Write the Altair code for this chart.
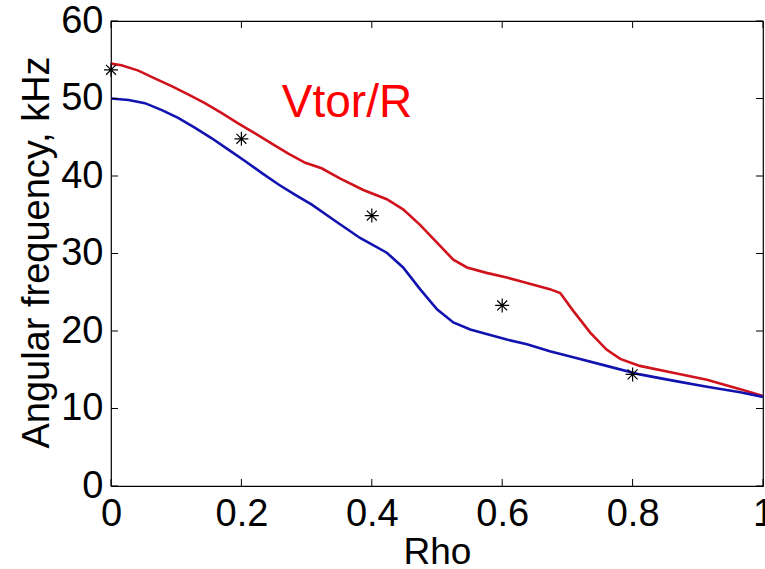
import altair as alt
import pandas as pd

# Red curve (Vtor/R)
rho_red = [0.0, 0.016, 0.042, 0.067, 0.093, 0.119, 0.144, 0.17, 0.195, 0.221, 0.246, 0.272,
           0.298, 0.323, 0.351, 0.387, 0.423, 0.448, 0.474, 0.5, 0.525, 0.546, 0.576, 0.607,
           0.638, 0.673, 0.689, 0.709, 0.735, 0.76, 0.781, 0.811, 0.862, 0.914, 0.965, 1.0]
val_red = [54.5, 54.3, 53.6, 52.6, 51.6, 50.5, 49.4, 48.1, 46.8, 45.5, 44.2, 42.9,
           41.7, 41.0, 39.7, 38.2, 37.0, 35.7, 33.7, 31.4, 29.2, 28.2, 27.5, 26.9,
           26.2, 25.4, 24.9, 22.6, 19.8, 17.6, 16.4, 15.5, 14.6, 13.7, 12.5, 11.6]

# Blue curve
rho_blue = [0.0, 0.027, 0.052, 0.078, 0.103, 0.129, 0.154, 0.18, 0.206, 0.231, 0.257, 0.282,
            0.308, 0.344, 0.382, 0.423, 0.448, 0.474, 0.5, 0.525, 0.551, 0.576, 0.607, 0.638,
            0.673, 0.709, 0.76, 0.811, 0.862, 0.914, 0.965, 1.0]
val_blue = [50.0, 49.8, 49.4, 48.5, 47.5, 46.2, 44.9, 43.4, 41.9, 40.4, 38.9, 37.6,
            36.3, 34.2, 32.0, 30.1, 28.2, 25.4, 22.8, 21.1, 20.2, 19.6, 18.9, 18.3,
            17.4, 16.6, 15.5, 14.4, 13.6, 12.8, 12.1, 11.5]

# Star markers
rho_star = [0.0, 0.2, 0.4, 0.6, 0.8]
val_star = [53.7, 44.8, 34.9, 23.3, 14.4]

# Ticks
x_ticks = [0, 0.2, 0.4, 0.6, 0.8, 1.0]
y_ticks = [0, 10, 20, 30, 40, 50, 60]

# Annotation
note_text = ["Vtor/R"]
note_rho = [0.262]
note_val = [47.6]

FONT = "Liberation Sans"
W, H = 652, 465
TICK = 7

red_df = pd.DataFrame({"rho": rho_red, "v": val_red})
blue_df = pd.DataFrame({"rho": rho_blue, "v": val_blue})
star_df = pd.DataFrame({"rho": rho_star, "v": val_star})
xt_df = pd.DataFrame({"t": x_ticks})
yt_df = pd.DataFrame({"t": y_ticks})
note_df = pd.DataFrame({"rho": note_rho, "v": note_val, "label": note_text})

xscale = alt.Scale(domain=[0, 1], nice=False, zero=False)
yscale = alt.Scale(domain=[0, 60], nice=False, zero=False)

xaxis = alt.Axis(values=x_ticks, format="~g", title="Rho", grid=False, domain=False,
                 ticks=False, tickSize=0, labelFontSize=38, labelFont=FONT,
                 labelColor="black", labelPadding=9, labelOverlap=False, labelBound=False,
                 labelFlush=False, titleFontSize=37, titleFont=FONT, titleFontWeight="normal",
                 titleColor="black", titleX=W / 2, titleY=77, titleBaseline="alphabetic",
                 titleAlign="center")
yaxis = alt.Axis(values=y_ticks, format="~g", title="Angular frequency, kHz", grid=False,
                 domain=False, ticks=False, tickSize=0, labelFontSize=38, labelFont=FONT,
                 labelColor="black", labelPadding=8, labelOverlap=False, labelBound=False,
                 labelFlush=False, titleFontSize=38, titleFont=FONT, titleFontWeight="normal",
                 titleColor="black", titleX=-63, titleY=231, titleAngle=270,
                 titleBaseline="alphabetic", titleAlign="center")

red = alt.Chart(red_df).mark_line(color="#d0121c", strokeWidth=2.6).encode(
    x=alt.X("rho:Q", scale=xscale, axis=xaxis),
    y=alt.Y("v:Q", scale=yscale, axis=yaxis),
)
blue = alt.Chart(blue_df).mark_line(color="#1212b0", strokeWidth=2.6).encode(
    x=alt.X("rho:Q", scale=xscale),
    y=alt.Y("v:Q", scale=yscale),
)
star_path = "M-1,0L1,0M0,-1L0,1M-0.71,-0.71L0.71,0.71M-0.71,0.71L0.71,-0.71"
stars = alt.Chart(star_df).mark_point(shape=star_path, size=196, filled=False,
                                       color="black", strokeWidth=1.2, opacity=1).encode(
    x=alt.X("rho:Q", scale=xscale),
    y=alt.Y("v:Q", scale=yscale),
)
note = alt.Chart(note_df).mark_text(align="left", baseline="alphabetic", fontSize=46,
                                     font=FONT, color="#ff0000").encode(
    x=alt.X("rho:Q", scale=xscale),
    y=alt.Y("v:Q", scale=yscale),
    text="label:N",
)

tick_style = dict(color="black", strokeWidth=1)
xt_bottom = alt.Chart(xt_df).mark_rule(**tick_style).encode(
    x=alt.X("t:Q", scale=xscale), y=alt.value(H), y2=alt.value(H - TICK))
xt_top = alt.Chart(xt_df).mark_rule(**tick_style).encode(
    x=alt.X("t:Q", scale=xscale), y=alt.value(0), y2=alt.value(TICK))
yt_left = alt.Chart(yt_df).mark_rule(**tick_style).encode(
    y=alt.Y("t:Q", scale=yscale), x=alt.value(0), x2=alt.value(TICK))
yt_right = alt.Chart(yt_df).mark_rule(**tick_style).encode(
    y=alt.Y("t:Q", scale=yscale), x=alt.value(W), x2=alt.value(W - TICK))

chart = alt.layer(red, blue, stars, note, xt_bottom, xt_top, yt_left, yt_right).properties(
    width=W, height=H,
    autosize=alt.AutoSizeParams(type="none"),
    padding={"left": 111, "top": 21, "right": 2, "bottom": 83},
    background="white",
).configure_view(stroke="black", strokeWidth=1.2)

chart.save("out.html", embed_options={"renderer": "svg", "actions": False})
